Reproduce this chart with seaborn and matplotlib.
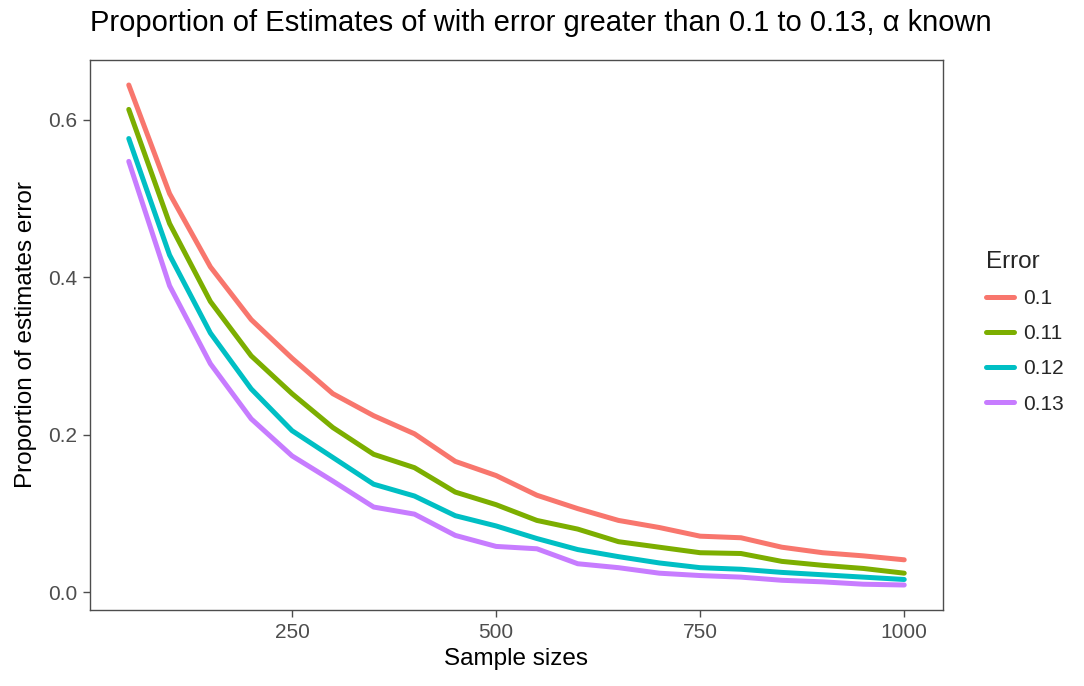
import matplotlib
matplotlib.use('Agg')
import matplotlib.pyplot as plt
import numpy as np
import pandas as pd
import seaborn as sns
from matplotlib.lines import Line2D

# data
sample_sizes = [50, 100, 150, 200, 250, 300, 350, 400, 450, 500,
                550, 600, 650, 700, 750, 800, 850, 900, 950, 1000]
err_010 = [0.644, 0.506, 0.413, 0.346, 0.297, 0.252, 0.224, 0.201, 0.166, 0.148,
           0.123, 0.106, 0.091, 0.082, 0.071, 0.069, 0.057, 0.050, 0.046, 0.041]
err_011 = [0.613, 0.468, 0.369, 0.300, 0.252, 0.209, 0.175, 0.158, 0.127, 0.111,
           0.091, 0.080, 0.064, 0.057, 0.050, 0.049, 0.039, 0.034, 0.030, 0.024]
err_012 = [0.576, 0.428, 0.329, 0.258, 0.205, 0.171, 0.137, 0.122, 0.097, 0.084,
           0.068, 0.054, 0.045, 0.037, 0.031, 0.029, 0.025, 0.022, 0.019, 0.016]
err_013 = [0.547, 0.389, 0.290, 0.220, 0.173, 0.141, 0.108, 0.099, 0.072, 0.058,
           0.055, 0.036, 0.031, 0.024, 0.021, 0.019, 0.015, 0.013, 0.010, 0.009]
error_levels = ['0.1', '0.11', '0.12', '0.13']
colors = ['#F8766D', '#7CAE00', '#00BFC4', '#C77CFF']

df = pd.DataFrame({
    'n': sample_sizes * 4,
    'prop': err_010 + err_011 + err_012 + err_013,
    'Error': sum([[e] * len(sample_sizes) for e in error_levels], []),
})

sns.set_theme(style='white')
plt.rcParams['font.family'] = ['Liberation Sans', 'DejaVu Sans']

fig = plt.figure(figsize=(10.84, 6.86), dpi=100)
ax = fig.add_axes([90 / 1084, 1 - 610 / 686, 853 / 1084, 550 / 686])

sns.lineplot(data=df, x='n', y='prop', hue='Error', hue_order=error_levels,
             palette=colors, linewidth=3.6, ax=ax, legend=False)

ax.set_xlim(2.5, 1047.5)
ymin, ymax = min(err_013), max(err_010)
pad = (ymax - ymin) * 0.05
ax.set_ylim(ymin - pad, ymax + pad)
ax.set_xticks([250, 500, 750, 1000])
ax.set_yticks([0.0, 0.2, 0.4, 0.6])
ax.set_yticklabels(['0.0', '0.2', '0.4', '0.6'])

for s in ax.spines.values():
    s.set_color('#4D4D4D')
    s.set_linewidth(1.0)
ax.tick_params(axis='both', direction='out', length=5, width=1.0, color='#4D4D4D',
               labelcolor='#4D4D4D', labelsize=15, bottom=True, left=True, pad=4)
ax.grid(False)

ax.set_xlabel('Sample sizes', fontsize=17.5, color='black', labelpad=5)
ax.set_ylabel('Proportion of estimates error', fontsize=17.5, color='black', labelpad=8)
fig.text(90 / 1084, 1 - 23 / 686, 'Proportion of Estimates of with error greater than 0.1 to 0.13, \u03b1 known',
         fontsize=21, ha='left', va='center', color='black')

# legend
handles = [Line2D([0], [0], color=c, lw=3.6) for c in colors]
leg = fig.legend(handles, error_levels, title='Error', loc='upper left',
                 bbox_to_anchor=(967 / 1084, 1 - 232 / 686), frameon=False,
                 fontsize=15, title_fontsize=17.5, handlelength=1.35,
                 handletextpad=0.45, labelspacing=0.78, alignment='left')

fig.savefig('out.png', dpi=100)
